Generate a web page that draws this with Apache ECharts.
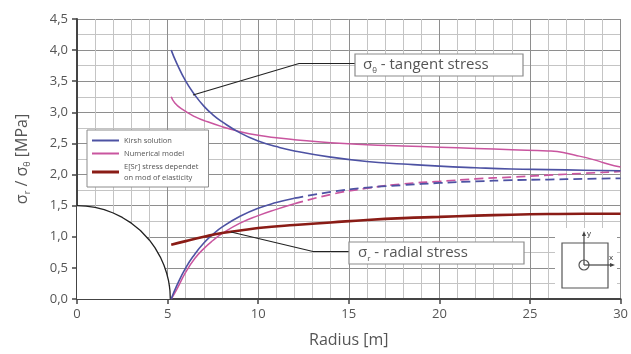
<!DOCTYPE html>
<html>
<head>
<meta charset="utf-8">
<script src="https://cdn.jsdelivr.net/npm/echarts@6/dist/echarts.min.js"></script>
<style>
  html, body { margin: 0; padding: 0; background: #fff; }
  #chart { width: 631px; height: 354px; }
</style>
</head>
<body>
<div id="chart"></div>
<script>
// radius values (m) for the stress curves
const radius = [5.2, 5.5, 6, 6.5, 7, 7.5, 8, 9, 10, 11, 12, 14, 16, 18, 20, 22, 24, 26, 28, 30]
// Kirsh solution
const kirshTangent = [4.0, 3.79, 3.5, 3.28, 3.1, 2.96, 2.85, 2.67, 2.54, 2.45, 2.38, 2.28, 2.21, 2.17, 2.135, 2.11, 2.09, 2.08, 2.07, 2.06]
const kirshRadial = [0, 0.21, 0.5, 0.72, 0.9, 1.04, 1.155, 1.33, 1.46, 1.55, 1.62, 1.72, 1.79, 1.83, 1.865, 1.89, 1.91, 1.92, 1.93, 1.94]
// numerical model
const numRadius = [5.2, 5.4, 5.8, 6.5, 7, 8, 9, 10, 11, 12, 14, 16, 18, 20, 22, 24, 26, 26.5, 27.5, 28.5, 29.3, 30]
const numTangent = [3.25, 3.15, 3.05, 2.93, 2.87, 2.77, 2.69, 2.63, 2.59, 2.56, 2.51, 2.48, 2.46, 2.44, 2.42, 2.4, 2.38, 2.37, 2.31, 2.24, 2.17, 2.12]
const numRadial = [0, 0.15, 0.43, 0.65, 0.81, 0.94, 1.05, 1.22, 1.34, 1.44, 1.53, 1.68, 1.78, 1.85, 1.89, 1.93, 1.96, 1.99, 2.02, 2.05]
// E[Sr] stress depending on modulus of elasticity
const esrRadius = [5.2, 6, 7, 8, 9, 10, 12, 14, 16, 18, 20, 22, 24, 26, 28, 30]
const esrValues = [0.87, 0.93, 1.0, 1.06, 1.1, 1.14, 1.19, 1.23, 1.27, 1.3, 1.32, 1.34, 1.355, 1.365, 1.37, 1.37]
// opening outline
const holeX = [0, 0.5, 1, 1.5, 2, 2.5, 3, 3.5, 4, 4.3, 4.6, 4.8, 4.95, 5.05, 5.1, 5.13, 5.15]
const holeY = [1.5, 1.493, 1.471, 1.435, 1.382, 1.311, 1.219, 1.1, 0.945, 0.825, 0.674, 0.543, 0.414, 0.294, 0.208, 0.132, 0]

const dashFrom = 12

function pairs(xs, ys) {
  return xs.map((x, i) => [x, ys[i]])
}
// split a curve into a solid part (x <= dashFrom) and a dashed part (x >= dashFrom)
function solidPart(xs, ys) {
  return pairs(xs, ys).filter(p => p[0] <= dashFrom)
}
function dashedPart(xs, ys) {
  return pairs(xs, ys).filter(p => p[0] >= dashFrom)
}

const blue = '#4d52a3'
const pink = '#c9559f'
const brown = '#8a1c16'
const font = 'Open Sans'

const chart = echarts.init(document.getElementById('chart'))

const option = {
  animation: false,
  textStyle: { fontFamily: font },
  grid: { left: 77, right: 9, top: 19, bottom: 55 },
  legend: {
    orient: 'vertical',
    left: 87,
    top: 130,
    padding: [5, 10, 4, 5],
    itemGap: 2,
    itemWidth: 27,
    itemHeight: 8,
    backgroundColor: '#fff',
    borderColor: '#8c8c8c',
    borderWidth: 1,
    borderRadius: 0,
    z: 20,
    textStyle: { fontSize: 7.5, color: '#555', lineHeight: 11 },
    data: [
      { name: 'Kirsh solution', icon: 'path://M0,0H27V2H0Z', itemStyle: { color: blue } },
      { name: 'Numerical model', icon: 'path://M0,0H27V2H0Z', itemStyle: { color: pink } },
      { name: 'E[Sr] stress dependet\non mod of elasticity', icon: 'path://M0,0H27V3H0Z', itemStyle: { color: brown } }
    ]
  },
  xAxis: {
    type: 'value',
    min: 0,
    max: 30,
    interval: 5,
    name: 'Radius [m]',
    nameLocation: 'middle',
    nameGap: 33,
    nameTextStyle: { fontSize: 16, color: '#555' },
    axisLine: { lineStyle: { color: '#444', width: 2 } },
    axisTick: { show: true, length: 5, lineStyle: { color: '#444', width: 1.5 } },
    axisLabel: { fontSize: 13, color: '#555', margin: 9 },
    splitLine: { lineStyle: { color: '#8e8e8e', width: 1 } },
    minorTick: { show: false, splitNumber: 5 },
    minorSplitLine: { show: true, lineStyle: { color: '#c4c4c4', width: 1 } }
  },
  yAxis: {
    type: 'value',
    min: 0,
    max: 4.5,
    interval: 0.5,
    name: '{a|σ}{s|r}{a| / σ}{s|θ}{a| [MPa]}',
    nameLocation: 'middle',
    nameGap: 45,
    nameTextStyle: {
      color: '#555',
      rich: {
        a: { fontSize: 16, color: '#555', lineHeight: 20, fontFamily: font },
        s: { fontSize: 9, color: '#555', verticalAlign: 'bottom', lineHeight: 10, fontFamily: font }
      }
    },
    axisLine: { show: true, lineStyle: { color: '#444', width: 2 } },
    axisTick: { show: true, length: 5, lineStyle: { color: '#444', width: 1.5 } },
    axisLabel: {
      fontSize: 13,
      color: '#555',
      margin: 9,
      formatter: v => v.toFixed(1).replace('.', ',')
    },
    splitLine: { lineStyle: { color: '#8e8e8e', width: 1 } },
    minorTick: { show: false, splitNumber: 2 },
    minorSplitLine: { show: true, lineStyle: { color: '#c4c4c4', width: 1 } }
  },
  series: [
    {
      name: 'hole',
      type: 'line',
      data: pairs(holeX, holeY),
      symbol: 'none',
      lineStyle: { color: '#222', width: 1.3 },
      areaStyle: { color: '#fff', opacity: 1 },
      z: 3
    },
    {
      name: 'Kirsh solution',
      type: 'line',
      data: pairs(radius, kirshTangent),
      smooth: true,
      symbol: 'none',
      lineStyle: { color: blue, width: 1.6 },
      itemStyle: { color: blue },
      z: 5
    },
    {
      name: 'Kirsh solution',
      type: 'line',
      data: solidPart(radius, kirshRadial),
      smooth: true,
      symbol: 'none',
      lineStyle: { color: blue, width: 1.6 },
      itemStyle: { color: blue },
      z: 5
    },
    {
      name: 'Kirsh solution dashed',
      type: 'line',
      data: dashedPart(radius, kirshRadial),
      smooth: true,
      symbol: 'none',
      lineStyle: { color: blue, width: 1.8, type: [9, 5] },
      z: 5
    },
    {
      name: 'Numerical model',
      type: 'line',
      data: pairs(numRadius, numTangent),
      smooth: true,
      symbol: 'none',
      lineStyle: { color: pink, width: 1.5 },
      itemStyle: { color: pink },
      z: 4
    },
    {
      name: 'Numerical model',
      type: 'line',
      data: solidPart(radius, numRadial),
      smooth: true,
      symbol: 'none',
      lineStyle: { color: pink, width: 1.5 },
      itemStyle: { color: pink },
      z: 4
    },
    {
      name: 'Numerical model dashed',
      type: 'line',
      data: dashedPart(radius, numRadial),
      smooth: true,
      symbol: 'none',
      lineStyle: { color: pink, width: 1.7, type: [9, 5] },
      z: 4
    },
    {
      name: 'E[Sr] stress dependet\non mod of elasticity',
      type: 'line',
      data: pairs(esrRadius, esrValues),
      smooth: true,
      symbol: 'none',
      lineStyle: { color: brown, width: 2.6 },
      itemStyle: { color: brown },
      z: 6
    }
  ],
  graphic: [
    // white patch behind the coordinate sketch
    { type: 'rect', z: 1, shape: { x: 555, y: 228, width: 62, height: 70 }, style: { fill: '#fff' } },
    { type: 'rect', z: 10, shape: { x: 562, y: 243, width: 46, height: 45 }, style: { fill: 'none', stroke: '#555', lineWidth: 1.2 } },
    { type: 'circle', z: 10, shape: { cx: 584, cy: 265, r: 5 }, style: { fill: 'none', stroke: '#555', lineWidth: 1.2 } },
    { type: 'line', z: 10, shape: { x1: 584, y1: 265, x2: 584, y2: 234 }, style: { stroke: '#444', lineWidth: 1.2 } },
    { type: 'polygon', z: 10, shape: { points: [[584, 231], [582, 236], [586, 236]] }, style: { fill: '#444' } },
    { type: 'line', z: 10, shape: { x1: 584, y1: 265, x2: 612, y2: 265 }, style: { stroke: '#444', lineWidth: 1.2 } },
    { type: 'polygon', z: 10, shape: { points: [[615, 265], [610, 263], [610, 267]] }, style: { fill: '#444' } },
    { type: 'text', z: 10, x: 587, y: 230, style: { text: 'y', fontSize: 8, fontFamily: font, fill: '#333' } },
    { type: 'text', z: 10, x: 609, y: 254, style: { text: 'x', fontSize: 8, fontFamily: font, fill: '#333' } },

    // tangent stress callout
    { type: 'polyline', z: 15, shape: { points: [[193, 95], [299, 63.5], [355, 63.5]] }, style: { stroke: '#222', lineWidth: 1.2, fill: 'none' } },
    { type: 'rect', z: 15, shape: { x: 355, y: 54, width: 168, height: 22 }, style: { fill: '#fff', stroke: '#8c8c8c', lineWidth: 1.2 } },
    {
      type: 'text', z: 16, x: 363, y: 55,
      style: {
        text: '{a|σ}{s|θ}{a| - tangent stress}',
        fill: '#555',
        rich: {
          a: { fontSize: 15, fontFamily: font, fill: '#555', lineHeight: 20 },
          s: { fontSize: 8, fontFamily: font, fill: '#555', verticalAlign: 'bottom', lineHeight: 9 }
        }
      }
    },

    // radial stress callout
    { type: 'polyline', z: 15, shape: { points: [[231, 232], [313, 251.5], [349, 251.5]] }, style: { stroke: '#222', lineWidth: 1.2, fill: 'none' } },
    { type: 'rect', z: 15, shape: { x: 349, y: 242, width: 175, height: 22 }, style: { fill: '#fff', stroke: '#8c8c8c', lineWidth: 1.2 } },
    {
      type: 'text', z: 16, x: 358, y: 243,
      style: {
        text: '{a|σ}{s|r}{a| - radial stress}',
        fill: '#555',
        rich: {
          a: { fontSize: 15, fontFamily: font, fill: '#555', lineHeight: 20 },
          s: { fontSize: 8, fontFamily: font, fill: '#555', verticalAlign: 'bottom', lineHeight: 9 }
        }
      }
    }
  ]
}

chart.setOption(option)
</script>
</body>
</html>
